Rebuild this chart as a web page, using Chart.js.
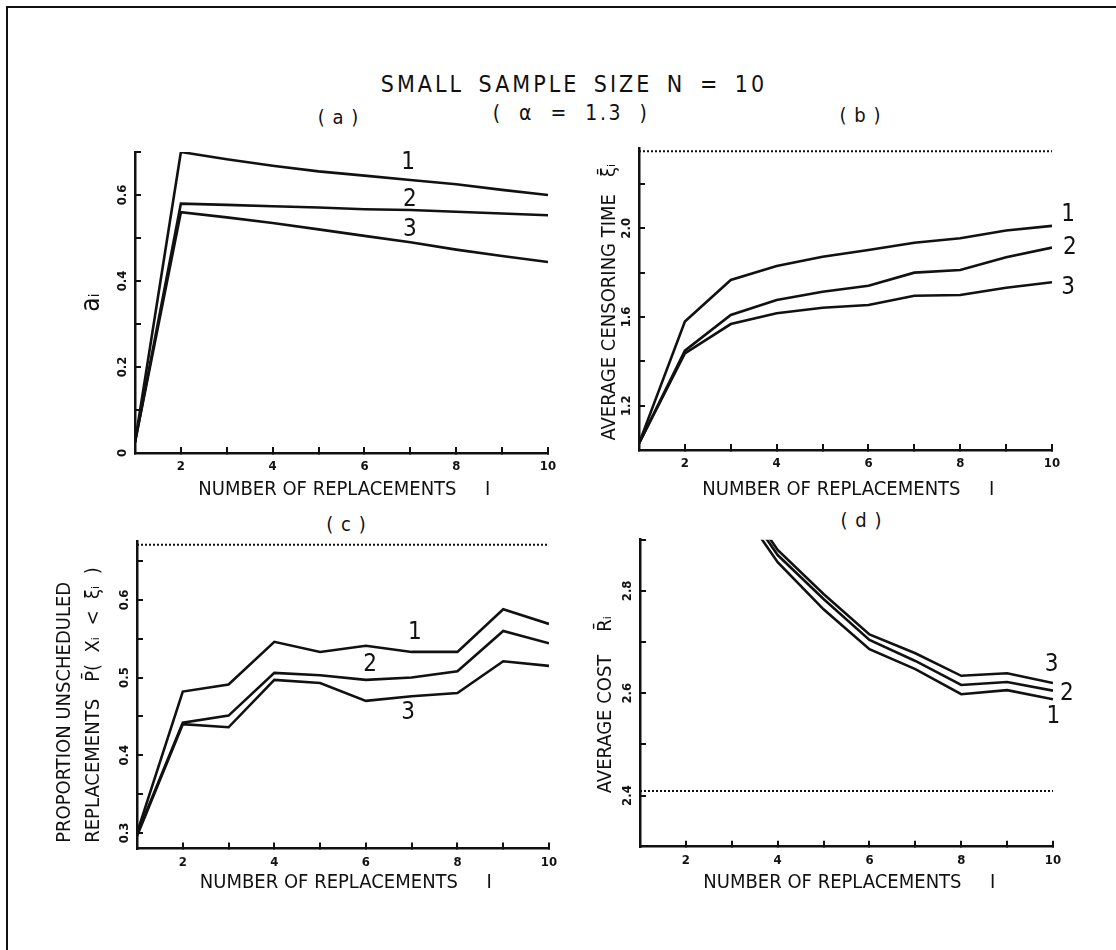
<!DOCTYPE html>
<html>
<head>
<meta charset="utf-8">
<script src="https://cdn.jsdelivr.net/npm/chart.js@4.4.1/dist/chart.umd.min.js"></script>
<style>
html,body{margin:0;padding:0;background:#fff;}
body{width:1116px;height:950px;position:relative;overflow:hidden;font-family:'DejaVu Sans Condensed','DejaVu Sans',sans-serif;color:#111;}
.frame{position:absolute;left:6px;top:6px;width:1130px;height:960px;border-left:2px solid #111;border-top:2px solid #111;}
.t{position:absolute;white-space:pre;transform:translate(-50%,-50%);line-height:1;}
.p{position:absolute;}
</style>
</head>
<body>
<div class="frame"></div>
<div class="t" style="left:574px;top:84px;font-size:23px;letter-spacing:3px;word-spacing:5px;">SMALL SAMPLE SIZE N = 10</div>
<div class="t" style="left:571px;top:113px;font-size:21px;letter-spacing:2.5px;word-spacing:8px;">( α = 1.3 )</div>
<div class="t" style="left:338px;top:117px;font-size:20px;word-spacing:2px;">( a )</div>
<div class="t" style="left:860px;top:115px;font-size:20px;word-spacing:2px;">( b )</div>
<div class="t" style="left:346px;top:524px;font-size:20px;word-spacing:2px;">( c )</div>
<div class="t" style="left:861px;top:520px;font-size:20px;word-spacing:2px;">( d )</div>

<div class="p" style="left:20px;top:110px;"><canvas id="ca" width="560" height="410"></canvas></div>
<div class="p" style="left:560px;top:110px;"><canvas id="cb" width="550" height="410"></canvas></div>
<div class="p" style="left:20px;top:505px;"><canvas id="cc" width="560" height="410"></canvas></div>
<div class="p" style="left:560px;top:505px;"><canvas id="cd" width="550" height="410"></canvas></div>

<script>
// ---- shared x axis ----
const replacements = [1, 2, 3, 4, 5, 6, 7, 8, 9, 10];
const xTickLabels = ['', '2', '', '4', '', '6', '', '8', '', '10'];

// ---- panel (a): a_i ----
const aSeries1 = [0.025, 0.700, 0.683, 0.668, 0.655, 0.645, 0.635, 0.625, 0.612, 0.600];
const aSeries2 = [0.025, 0.580, 0.577, 0.574, 0.571, 0.567, 0.565, 0.561, 0.557, 0.553];
const aSeries3 = [0.025, 0.560, 0.548, 0.535, 0.520, 0.505, 0.490, 0.473, 0.458, 0.444];
const aTicks = [0, 0.1, 0.2, 0.3, 0.4, 0.5, 0.6, 0.7];
const aTickLabels = ['0', '', '0.2', '', '0.4', '', '0.6', ''];

// ---- panel (b): average censoring time ----
const bSeries1 = [1.03, 1.580, 1.767, 1.830, 1.872, 1.902, 1.935, 1.955, 1.990, 2.011];
const bSeries2 = [1.03, 1.448, 1.609, 1.677, 1.714, 1.741, 1.800, 1.812, 1.869, 1.913];
const bSeries3 = [1.03, 1.436, 1.568, 1.617, 1.642, 1.654, 1.696, 1.699, 1.732, 1.757];
const bLimit = [2.348, 2.348, 2.348, 2.348, 2.348, 2.348, 2.348, 2.348, 2.348, 2.348];
const bTicks = [1.2, 1.4, 1.6, 1.8, 2.0, 2.2];
const bTickLabels = ['1.2', '', '1.6', '', '2.0', ''];

// ---- panel (c): proportion unscheduled replacements ----
const cSeries1 = [0.300, 0.482, 0.491, 0.546, 0.533, 0.541, 0.533, 0.533, 0.588, 0.569];
const cSeries2 = [0.298, 0.442, 0.451, 0.506, 0.503, 0.497, 0.500, 0.508, 0.560, 0.544];
const cSeries3 = [0.296, 0.440, 0.436, 0.497, 0.493, 0.470, 0.476, 0.480, 0.521, 0.515];
const cLimit = [0.671, 0.671, 0.671, 0.671, 0.671, 0.671, 0.671, 0.671, 0.671, 0.671];
const cTicks = [0.3, 0.35, 0.4, 0.45, 0.5, 0.55, 0.6, 0.65];
const cTickLabels = ['0.3', '', '0.4', '', '0.5', '', '0.6', ''];

// ---- panel (d): average cost ----
const dSeries1 = [null, null, 2.986, 2.856, 2.764, 2.686, 2.647, 2.598, 2.606, 2.588];
const dSeries2 = [null, null, 3.000, 2.870, 2.784, 2.704, 2.663, 2.616, 2.622, 2.605];
const dSeries3 = [null, null, 3.010, 2.880, 2.794, 2.715, 2.678, 2.634, 2.639, 2.620];
const dLimit = [2.409, 2.409, 2.409, 2.409, 2.409, 2.409, 2.409, 2.409, 2.409, 2.409];
const dTicks = [2.4, 2.5, 2.6, 2.7, 2.8, 2.9];
const dTickLabels = ['2.4', '', '2.6', '', '2.8', ''];

const curveNames = ['1', '2', '3'];

// ---------------- rendering ----------------
const FONT = "'DejaVu Sans Condensed', 'DejaVu Sans', sans-serif";
const INK = '#111';
Chart.defaults.font.family = FONT;
Chart.defaults.color = INK;

const curveLabels = {
  id: 'curveLabels',
  afterDatasetsDraw(chart, args, opts) {
    const {ctx} = chart;
    const xs = chart.scales.x, ys = chart.scales.y;
    ctx.save();
    ctx.font = opts.font;
    ctx.fillStyle = INK;
    ctx.textAlign = 'center';
    ctx.textBaseline = 'middle';
    (opts.items || []).forEach(it => {
      ctx.fillText(it.text, xs.getPixelForValue(it.x), ys.getPixelForValue(it.y));
    });
    ctx.restore();
  }
};

function pts(ys) { return replacements.map((x, i) => ({x: x, y: ys[i]})); }

function curve(ys) {
  return {data: pts(ys), borderColor: INK, borderWidth: 2.6, pointRadius: 0, tension: 0, fill: false};
}
function dotted(ys) {
  return {data: pts(ys), borderColor: INK, borderWidth: 2, borderDash: [2, 2], pointRadius: 0, tension: 0, fill: false};
}

function labelFor(ticks, labels) {
  return function (value) {
    for (let i = 0; i < ticks.length; i++) {
      if (Math.abs(ticks[i] - value) < 1e-6) return labels[i];
    }
    return '';
  };
}

function makePanel(id, cfg) {
  const axisBase = {
    border: {display: true, color: INK, width: 2.5},
    grid: {display: true, drawOnChartArea: false, drawTicks: true, tickLength: -6, lineWidth: 2, tickWidth: 2, tickColor: INK, color: INK}
  };
  new Chart(document.getElementById(id), {
    type: 'line',
    data: {datasets: cfg.datasets},
    options: {
      responsive: false,
      animation: false,
      events: [],
      layout: {padding: {left: 0, right: cfg.padRight, top: cfg.padTop, bottom: 0}},
      plugins: {
        legend: {display: false},
        tooltip: {enabled: false},
        curveLabels: {font: "24px " + FONT, items: cfg.labels}
      },
      scales: {
        x: Object.assign({}, axisBase, {
          type: 'linear', min: 1, max: 10,
          afterBuildTicks: s => { s.ticks = replacements.map(v => ({value: v})); },
          afterFit: s => { s.height = cfg.xHeight; },
          ticks: {autoSkip: false, maxRotation: 0, minRotation: 0, padding: 12,
                  font: {size: 13, weight: 'bold'}, color: INK,
                  callback: labelFor(replacements, xTickLabels)},
          title: {display: true, text: ' NUMBER OF REPLACEMENTS     I', color: INK,
                  font: {size: 20, lineHeight: 1.2}, padding: {top: 0, bottom: cfg.xTitlePad}}
        }),
        y: Object.assign({}, axisBase, {
          type: 'linear', min: cfg.yMin, max: cfg.yMax,
          afterBuildTicks: s => { s.ticks = cfg.yTicks.map(v => ({value: v})); },
          afterFit: s => { s.width = cfg.yWidth; },
          ticks: {autoSkip: false, minRotation: 90, maxRotation: 90, crossAlign: 'center', padding: 8.5,
                  font: {size: 13, weight: 'bold'}, color: INK,
                  callback: labelFor(cfg.yTicks, cfg.yTickLabels)},
          title: {display: true, text: cfg.yTitle, color: INK, align: cfg.yTitleAlign || 'center',
                  font: {size: cfg.yTitleSize || 20, lineHeight: cfg.yTitleLH || 1.2}, padding: {top: cfg.yTitlePad, bottom: 0}}
        })
      }
    },
    plugins: [curveLabels]
  });
}

makePanel('ca', {
  datasets: [curve(aSeries1), curve(aSeries2), curve(aSeries3)],
  yMin: 0, yMax: 0.7, yTicks: aTicks, yTickLabels: aTickLabels,
  yTitle: 'aᵢ', yTitleSize: 26, yTitlePad: 56.4, yWidth: 115, xHeight: 67, xTitlePad: 18, padTop: 42, padRight: 32,
  labels: [{text: curveNames[0], x: 6.95, y: 0.674}, {text: curveNames[1], x: 6.99, y: 0.588}, {text: curveNames[2], x: 6.99, y: 0.519}]
});

makePanel('cb', {
  datasets: [dotted(bLimit), curve(bSeries1), curve(bSeries2), curve(bSeries3)],
  yMin: 1.0, yMax: 2.36, yTicks: bTicks, yTickLabels: bTickLabels,
  yTitle: 'AVERAGE CENSORING TIME   ξ̄ᵢ ', yTitlePad: 38, yWidth: 79, xHeight: 70, xTitlePad: 18, padTop: 38.5, padRight: 58,
  labels: [{text: curveNames[0], x: 10.35, y: 2.06}, {text: curveNames[1], x: 10.39, y: 1.911}, {text: curveNames[2], x: 10.35, y: 1.731}]
});

makePanel('cc', {
  datasets: [dotted(cLimit), curve(cSeries1), curve(cSeries2), curve(cSeries3)],
  yMin: 0.28, yMax: 0.676, yTicks: cTicks, yTickLabels: cTickLabels,
  yTitle: [' PROPORTION UNSCHEDULED', ' REPLACEMENTS   P̄(  Xᵢ  <  ξᵢ  )'], yTitleAlign: 'start', yTitleLH: 1.45,
  yTitlePad: 30.5, yWidth: 117, xHeight: 66.5, xTitlePad: 20, padTop: 35.8, padRight: 31,
  labels: [{text: curveNames[0], x: 7.07, y: 0.557}, {text: curveNames[1], x: 6.09, y: 0.516}, {text: curveNames[2], x: 6.92, y: 0.455}]
});

makePanel('cd', {
  datasets: [dotted(dLimit), curve(dSeries1), curve(dSeries2), curve(dSeries3)],
  yMin: 2.3, yMax: 2.9, yTicks: dTicks, yTickLabels: dTickLabels,
  yTitle: 'AVERAGE COST    R̄ᵢ    ', yTitlePad: 34, yWidth: 80, xHeight: 68.3, xTitlePad: 20, padTop: 34.7, padRight: 57,
  labels: [{text: curveNames[2], x: 9.97, y: 2.655}, {text: curveNames[1], x: 10.30, y: 2.598}, {text: curveNames[0], x: 10.01, y: 2.554}]
});
</script>
</body>
</html>
